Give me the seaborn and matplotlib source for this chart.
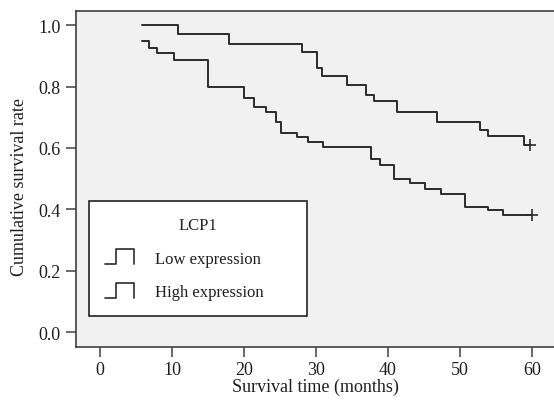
import seaborn as sns
import matplotlib.pyplot as plt
import pandas as pd
from matplotlib.lines import Line2D
from matplotlib.legend_handler import HandlerBase

# Kaplan-Meier step values
low_time = [5.8, 10.9, 17.9, 28.0, 30.2, 30.8, 34.3, 36.9, 38.1, 41.3, 46.8, 52.8, 53.9, 58.9, 59.7]
low_surv = [1.0, 0.971, 0.940, 0.913, 0.860, 0.835, 0.805, 0.773, 0.753, 0.716, 0.685, 0.659, 0.640, 0.610, 0.610]

high_time = [5.8, 6.8, 7.9, 10.3, 15.0, 20.0, 21.4, 23.0, 24.5, 25.1, 27.3, 28.9, 31.0, 37.6, 38.9,
             40.8, 43.1, 45.1, 47.4, 50.7, 53.9, 55.9, 60.0]
high_surv = [0.949, 0.927, 0.909, 0.887, 0.799, 0.762, 0.732, 0.716, 0.685, 0.650, 0.636, 0.620, 0.603,
             0.563, 0.544, 0.498, 0.485, 0.466, 0.450, 0.408, 0.397, 0.382, 0.382]

groups = ['Low expression', 'High expression']
x_ticks = [0, 10, 20, 30, 40, 50, 60]
y_ticks = [0.0, 0.2, 0.4, 0.6, 0.8, 1.0]

df = pd.concat([
    pd.DataFrame({'time': low_time, 'surv': low_surv, 'group': groups[0]}),
    pd.DataFrame({'time': high_time, 'surv': high_surv, 'group': groups[1]}),
])
cens = df.groupby('group', sort=False).tail(1)

sns.set_theme(style='white')
plt.rcParams['font.family'] = ['Liberation Serif', 'DejaVu Serif']

line_col = '#2b2b2b'
txt_col = '#1e1e1e'


class StepHandler(HandlerBase):  # little step icon like spss uses
    def create_artists(self, legend, orig_handle, xdescent, ydescent, width, height, fontsize, trans):
        x0, y0 = -xdescent, -ydescent
        xs = [x0, x0 + 0.4 * width, x0 + 0.4 * width, x0 + width, x0 + width]
        ys = [y0, y0, y0 + height, y0 + height, y0]
        ln = Line2D(xs, ys, color=line_col, lw=1.2, transform=trans)
        return [ln]


fig = plt.figure(figsize=(5.54, 4.02), dpi=100)
ax = fig.add_axes([0.137, 0.134, 0.863, 0.836])
ax.set_facecolor('#f1f1f1')

sns.lineplot(data=df, x='time', y='surv', units='group', estimator=None, sort=False,
             drawstyle='steps-post', color=line_col, lw=1.4, ax=ax, legend=False)
ax.plot(cens['time'], cens['surv'], ls='none', marker='+', ms=9, mew=1.2, color=line_col)

ax.set_xlim(-3.33, 63.05)
ax.set_ylim(-0.049, 1.046)
ax.set_xticks(x_ticks)
ax.set_yticks(y_ticks)
ax.set_yticklabels([f'{v:.1f}' for v in y_ticks])
ax.tick_params(axis='both', direction='out', length=7, width=1.1, color='#404040',
               labelsize=13, pad=4, labelcolor=txt_col, bottom=True, left=True)
ax.tick_params(axis='x', pad=3)
for s in ['left', 'bottom', 'top']:
    ax.spines[s].set_color('#404040')
    ax.spines[s].set_linewidth(1.2)
ax.spines['right'].set_visible(False)

ax.set_xlabel('Survival time (months)', fontsize=13, labelpad=0, color=txt_col)
ax.set_ylabel('Cumulative survival rate', fontsize=13, color=txt_col)
ax.yaxis.set_label_coords(-0.1, 0.48)

handles = [Line2D([], []), Line2D([], [])]
leg = ax.legend(handles, groups, title='LCP1', loc='lower left', mode='expand',
                bbox_to_anchor=(0.027, 0.092, 0.456, 0.3),
                borderaxespad=0, handler_map={Line2D: StepHandler()}, fontsize=12,
                title_fontsize=12, handlelength=1.75, handleheight=1.0, handletextpad=1.25,
                labelspacing=1.0, borderpad=0.95, fancybox=False, framealpha=1,
                edgecolor='#222222', facecolor='white')
leg.get_frame().set_linewidth(1.2)
for t in leg.get_texts():
    t.set_color(txt_col)

fig.savefig('out.png', dpi=100)
